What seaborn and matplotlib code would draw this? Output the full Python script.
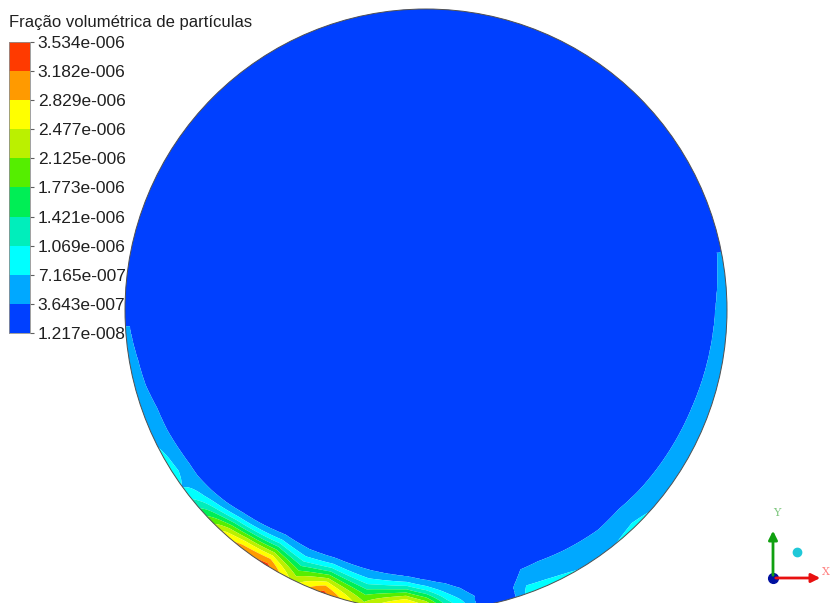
import numpy as np
import seaborn as sns
import matplotlib.pyplot as plt
from matplotlib.colors import ListedColormap
from matplotlib.patches import Circle

# Contour levels and legend labels (as shown in the legend)
levels = [1.217e-8, 3.643e-7, 7.165e-7, 1.069e-6, 1.421e-6, 1.773e-6,
          2.125e-6, 2.477e-6, 2.829e-6, 3.182e-6, 3.534e-6]
level_labels = ["1.217e-008", "3.643e-007", "7.165e-007", "1.069e-006",
                "1.421e-006", "1.773e-006", "2.125e-006", "2.477e-006",
                "2.829e-006", "3.182e-006", "3.534e-006"]
band_colors = ["#0040ff", "#00a8ff", "#00ffff", "#00eebb", "#00ee55",
               "#55ee00", "#bbf000", "#ffff00", "#ff9a00", "#ff3a00"]
title = "Fração volumétrica de partículas"

# Wall readings around the section: angle (deg, ccw from +x), value at the
# wall (x1e-6) and thickness of the enriched layer (px)
wall_ang = [-180, -176, -170, -165, -160, -155, -150, -147, -144, -140,
            -136, -132, -128, -122, -116, -110, -102, -94, -90, -86,
            -83, -80, -76, -73, -70, -66, -60, -52, -46, -40,
            -30, -20, -10, 0, 5, 11, 15, 90]
wall_val = [0.25, 0.40, 0.55, 0.60, 0.62, 0.65, 0.80, 0.85, 0.70, 1.20,
            1.90, 2.60, 3.00, 3.30, 2.30, 3.30, 2.20, 3.35, 2.80, 1.50,
            0.95, 0.30, 0.25, 0.30, 0.85, 0.80, 0.72, 0.70, 0.78, 0.68,
            0.64, 0.60, 0.55, 0.52, 0.45, 0.37, 0.25, 0.20]
wall_thk = [5, 5, 9, 11, 15, 16, 18, 19, 19, 21,
            24, 28, 31, 36, 35, 37, 35, 34, 31, 27,
            21, 10, 8, 8, 25, 26, 24, 22, 24, 22,
            20, 18, 15, 12, 9, 5, 5, 5]

# geometry of the section in image pixels
cx, cy, R = 426.0, 310.0, 301.0
c0 = levels[1]

sns.set_theme(style="white")
plt.rcParams['font.family'] = ['Liberation Sans', 'DejaVu Sans']

fig = plt.figure(figsize=(8.33, 6.03), dpi=100)
ax = fig.add_axes([0, 0, 1, 1])

# build the field from the wall readings
X, Y = np.meshgrid(np.arange(115, 740, 0.75), np.arange(0, 620, 0.75))
dx = X - cx
dy = cy - Y
r = np.hypot(dx, dy)
theta = np.degrees(np.arctan2(dy, dx))
d = np.clip(R - r, 0, None)
W = np.interp(theta, wall_ang, np.array(wall_val) * 1e-6, period=360)
T = np.interp(theta, wall_ang, wall_thk, period=360)
u = d / T
uc = np.clip(u, 0, 1)
f = 0.5 * (1 - uc) + 0.5 * (1 - 3 * uc**2 + 2 * uc**3)
field = np.where(W > c0, c0 + (W - c0) * f, W * f)
field = np.where(u > 1, np.minimum(W, c0) * (2 - u), field)
field = np.clip(field, levels[0], levels[-1])

cmap = ListedColormap(sns.color_palette(band_colors))
cs = ax.contourf(X, Y, field, levels=levels, colors=band_colors, antialiased=True)
clip = Circle((cx, cy), R, transform=ax.transData)
cs.set_clip_path(clip)
ax.add_patch(Circle((cx, cy), R, fill=False, edgecolor="#505050", lw=0.7))

ax.set_xlim(0, 833)
ax.set_ylim(603, 0)
ax.axis("off")

# axis triad
ax.annotate("", xy=(773, 528), xytext=(773, 578),
            arrowprops=dict(arrowstyle="-|>", color="#10a010", lw=2, mutation_scale=13))
ax.annotate("", xy=(823, 578), xytext=(773, 578),
            arrowprops=dict(arrowstyle="-|>", color="#e81010", lw=2, mutation_scale=13))
ax.plot(773, 578, "o", color="#0010a0", ms=7)
ax.plot(797, 552, "o", color="#20c8d8", ms=6)
ax.text(777, 513, "Y", color="#80c880", fontsize=8, ha="center", va="center",
        family="DejaVu Serif")
ax.text(826, 572, "X", color="#ff8080", fontsize=8, ha="center", va="center",
        family="DejaVu Serif")

# legend bar
cax = fig.add_axes([9 / 833, (603 - 333) / 603, 21 / 833, 291 / 603])
bands = np.arange(len(band_colors))[::-1].reshape(-1, 1)
sns.heatmap(bands, ax=cax, cmap=cmap, cbar=False, vmin=-0.5,
            vmax=len(band_colors) - 0.5, xticklabels=False)
cax.yaxis.tick_right()
cax.set_yticks(np.arange(len(levels)))
cax.set_yticklabels(level_labels[::-1], rotation=0, fontsize=12.5, color="#202020")
cax.tick_params(axis="y", length=3, width=0.8, color="#606060", pad=2.5, right=True)
for s in cax.spines.values():
    s.set_visible(True)
    s.set_color("#909090")
    s.set_linewidth(0.6)

fig.text(9 / 833, 1 - 23 / 603, title, fontsize=12, color="#202020",
         ha="left", va="center")

fig.savefig("out.png", dpi=100)
